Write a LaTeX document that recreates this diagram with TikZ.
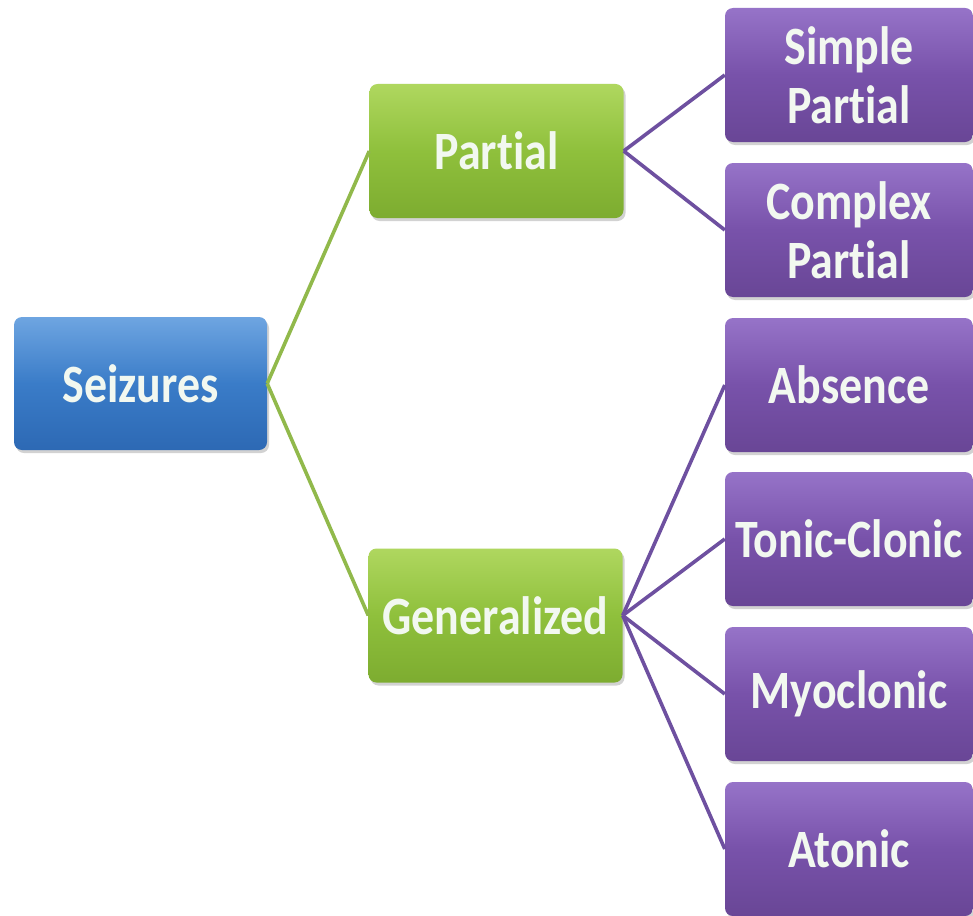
\documentclass[tikz,border=0pt]{standalone}
\usepackage{fontspec}
\setmainfont[FakeStretch=0.85,Ligatures=NoCommon]{Carlito}
\usetikzlibrary{shadows}
\definecolor{blueT}{RGB}{110,165,225}
\definecolor{blueM}{RGB}{58,124,200}
\definecolor{blueB}{RGB}{45,105,180}
\definecolor{greenT}{RGB}{175,215,95}
\definecolor{greenM}{RGB}{143,192,60}
\definecolor{greenB}{RGB}{125,172,48}
\definecolor{purpT}{RGB}{150,115,200}
\definecolor{purpM}{RGB}{120,82,170}
\definecolor{purpB}{RGB}{105,70,150}
\definecolor{glink}{RGB}{145,185,75}
\definecolor{plink}{RGB}{110,80,160}
\definecolor{txt}{RGB}{242,248,240}
\tikzset{
  box/.style={rounded corners=8pt, inner sep=0pt, align=center,
    text=txt, font=\fontsize{54}{59}\selectfont\bfseries,
    drop shadow={opacity=0.35, shadow xshift=2pt, shadow yshift=-3pt}},
  bluebox/.style={box, top color=blueT, bottom color=blueB, middle color=blueM,
    minimum width=253pt, minimum height=133pt},
  greenbox/.style={box, top color=greenT, bottom color=greenB, middle color=greenM,
    minimum width=254pt, minimum height=134pt},
  purpbox/.style={box, top color=purpT, bottom color=purpB, middle color=purpM,
    minimum width=248pt, minimum height=134pt},
  glinkst/.style={draw=glink, line width=3.6pt},
  plinkst/.style={draw=plink, line width=3.6pt},
}
\begin{document}
\begin{tikzpicture}[x=1pt,y=-1pt]
\useasboundingbox[fill=white] (0,0) rectangle (973,915);
\node[bluebox] (seiz) at (140.5,383.5) {Seizures};
\node[greenbox] (part) at (496.5,151) {Partial};
\node[greenbox] (gen) at (495.5,615.5) {Generalized};
\node[purpbox] (sp) at (849,75) {Simple\\Partial};
\node[purpbox] (cp) at (849,230) {Complex\\Partial};
\node[purpbox] (abs) at (849,385) {Absence};
\node[purpbox] (tc) at (849,539) {Tonic-Clonic};
\node[purpbox] (myo) at (849,694) {Myoclonic};
\node[purpbox] (ato) at (849,849) {Atonic};
\draw[glinkst] (seiz.east) -- (part.west);
\draw[glinkst] (seiz.east) -- (gen.west);
\draw[plinkst] (part.east) -- (sp.west);
\draw[plinkst] (part.east) -- (cp.west);
\draw[plinkst] (gen.east) -- (abs.west);
\draw[plinkst] (gen.east) -- (tc.west);
\draw[plinkst] (gen.east) -- (myo.west);
\draw[plinkst] (gen.east) -- (ato.west);
\end{tikzpicture}
\end{document}
